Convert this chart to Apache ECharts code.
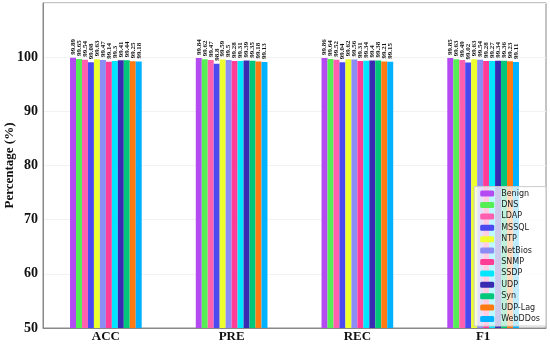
<!DOCTYPE html>
<html>
<head>
<meta charset="utf-8">
<script src="https://cdn.jsdelivr.net/npm/echarts@6/dist/echarts.min.js"></script>
<style>
  html, body { margin: 0; padding: 0; background: #fff; }
  #chart { width: 550px; height: 345px; }
</style>
</head>
<body>
<div id="chart"></div>
<script>
const categories = ['ACC', 'PRE', 'REC', 'F1'];
const classNames = ['Benign', 'DNS', 'LDAP', 'MSSQL', 'NTP', 'NetBios', 'SNMP', 'SSDP', 'UDP', 'Syn', 'UDP-Lag', 'WebDDos'];
const classColors = ['#b44af2', '#55ee55', '#ff5fae', '#4a4af0', '#eeff2e', '#8c8cf5', '#ff3d96', '#00e6ff', '#3a2cb2', '#00c77a', '#ff7a12', '#00b2ff'];
// values per class: [ACC, PRE, REC, F1]
const benign = [99.89, 99.84, 99.86, 99.85];
const dns = [99.65, 99.62, 99.64, 99.63];
const ldap = [99.54, 99.47, 99.52, 99.49];
const mssql = [99.08, 98.8, 99.04, 99.02];
const ntp = [99.63, 99.59, 99.62, 99.63];
const netbios = [99.47, 99.50, 99.56, 99.54];
const snmp = [99.14, 99.28, 99.31, 99.28];
const ssdp = [99.30, 99.31, 99.34, 99.27];
const udp = [99.41, 99.39, 99.4, 99.34];
const syn = [99.44, 99.35, 99.38, 99.36];
const udpLag = [99.25, 99.18, 99.21, 99.23];
const webDDos = [99.18, 99.13, 99.15, 99.11];
const yTicks = [50, 60, 70, 80, 90, 100];

const allValues = [benign, dns, ldap, mssql, ntp, netbios, snmp, ssdp, udp, syn, udpLag, webDDos];

const serif = '"Liberation Serif", "DejaVu Serif", serif';

const chart = echarts.init(document.getElementById('chart'));

const series = classNames.map((name, i) => ({
    name: name,
    type: 'bar',
    data: allValues[i],
    barGap: '0%',
    barCategoryGap: '43%',
    itemStyle: { color: classColors[i] },
    label: {
        show: true,
        position: 'top',
        rotate: 90,
        align: 'left',
        verticalAlign: 'middle',
        distance: 3,
        fontFamily: serif,
        fontWeight: 'bold',
        fontSize: 7,
        color: '#111',
        formatter: p => String(p.value)
    }
}));

chart.setOption({
    animation: false,
    grid: {
        left: 43,
        right: 4,
        top: 3,
        bottom: 17,
        outerBoundsMode: 'none',
        containLabel: false,
        show: true,
        borderColor: '#888',
        borderWidth: 1
    },
    legend: {
        data: classNames,
        orient: 'vertical',
        right: 4,
        bottom: 19,
        itemWidth: 14,
        itemHeight: 6,
        itemGap: 3.4,
        padding: [3, 6, 3, 6],
        backgroundColor: 'rgba(255,255,255,0.75)',
        borderColor: '#ccc',
        borderWidth: 1,
        textStyle: { fontFamily: '"DejaVu Sans", sans-serif', fontSize: 8, color: '#222', padding: [0, 0, 0, 2] }
    },
    xAxis: {
        type: 'category',
        data: categories,
        axisLine: { lineStyle: { color: '#888' } },
        axisTick: { show: false },
        axisLabel: { fontFamily: serif, fontWeight: 'bold', fontSize: 13, color: '#111', margin: 2 }
    },
    yAxis: {
        type: 'value',
        min: 50,
        max: 110,
        interval: 10,
        name: 'Percentage (%)',
        nameLocation: 'middle',
        nameGap: 27,
        nameMoveOverlap: false,
        nameTextStyle: { fontFamily: serif, fontWeight: 'bold', fontSize: 13, color: '#111' },
        axisLine: { show: true, lineStyle: { color: '#888' } },
        axisTick: { show: false },
        axisLabel: {
            fontFamily: serif, fontWeight: 'bold', fontSize: 14, color: '#111', margin: 5,
            formatter: v => yTicks.includes(v) ? String(v) : ''
        },
        splitLine: { show: true, lineStyle: { color: '#f2f2f2', width: 1 } }
    },
    series: series
});
</script>
</body>
</html>
